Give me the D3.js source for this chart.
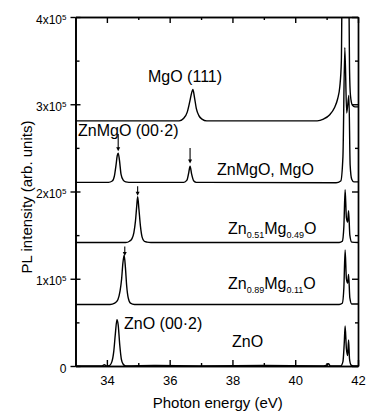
<!DOCTYPE html>
<meta charset="utf-8">
<script src="https://d3js.org/d3.v7.min.js"></script>
<style>
  body { margin: 0; background: #fff; }
  text { font-family: "Liberation Sans", Arial, sans-serif; fill: #000; }
</style>
<div id="chart"></div>
<script>

    // photon energy axis (eV) and intensity axis (x10^5 arb. units)
    let xMajor = [34, 36, 38, 40, 42];
    let xMinor = [35, 37, 39, 41];
    let yMajor = [0, 1, 2, 3, 4];
    let yMinor = [0.5, 1.5, 2.5, 3.5];

    // spectra, intensity in units of 1e5
    let znoE = [33.0, 33.85, 33.92, 33.98, 34.08, 34.16, 34.22, 34.27, 34.32, 34.36, 34.41, 34.46, 34.52, 34.6, 35.5, 37.0, 39.0, 40.9, 41.0, 41.06, 41.12, 41.45, 41.52, 41.56, 41.59, 41.63, 41.67, 41.7, 41.73, 41.78, 41.85, 42.0];
    let znoI = [0, 0, 0.015, 0, 0.005, 0.05, 0.17, 0.37, 0.53, 0.47, 0.24, 0.08, 0.02, 0, 0.005, 0, 0.005, 0, 0.01, 0.025, 0, 0, 0.05, 0.25, 0.46, 0.2, 0.12, 0.3, 0.08, 0.01, 0, 0];

    let zn89E = [33.0, 34.1, 34.25, 34.35, 34.42, 34.47, 34.51, 34.55, 34.59, 34.63, 34.68, 34.75, 34.88, 41.4, 41.5, 41.55, 41.59, 41.63, 41.67, 41.7, 41.74, 41.8, 42.0];
    let zn89I = [0.705, 0.705, 0.72, 0.76, 0.86, 1.0, 1.18, 1.27, 1.13, 0.92, 0.78, 0.72, 0.705, 0.705, 0.72, 0.9, 1.33, 1.0, 0.95, 1.05, 0.78, 0.71, 0.71];

    let zn51E = [33.0, 34.6, 34.72, 34.8, 34.86, 34.91, 34.95, 34.98, 35.02, 35.07, 35.12, 35.19, 35.28, 35.4, 41.4, 41.5, 41.55, 41.59, 41.63, 41.67, 41.7, 41.74, 41.8, 42.0];
    let zn51I = [1.415, 1.415, 1.43, 1.46, 1.53, 1.66, 1.83, 1.94, 1.8, 1.6, 1.48, 1.43, 1.42, 1.415, 1.415, 1.43, 1.6, 2.02, 1.7, 1.65, 1.78, 1.5, 1.42, 1.415];

    let znmgoE = [33.0, 34.05, 34.17, 34.24, 34.29, 34.33, 34.36, 34.4, 34.45, 34.52, 34.6, 34.7, 36.45, 36.55, 36.61, 36.65, 36.7, 36.77, 36.85, 41.3, 41.45, 41.52, 41.58, 41.64, 41.71, 41.75, 41.8, 41.87, 42.0];
    let znmgoI = [2.105, 2.105, 2.12, 2.18, 2.3, 2.41, 2.44, 2.36, 2.2, 2.13, 2.11, 2.105, 2.105, 2.13, 2.22, 2.29, 2.2, 2.12, 2.105, 2.1, 2.12, 2.4, 3.65, 2.9, 3.1, 2.3, 2.14, 2.11, 2.11];

    let mgoE = [33.0, 36.3, 36.45, 36.56, 36.64, 36.7, 36.74, 36.79, 36.85, 36.93, 37.03, 37.18, 40.7, 40.9, 41.1, 41.25, 41.35, 41.42, 41.47, 41.5, 41.7, 41.73, 41.76, 41.82, 41.9, 42.0];
    let mgoI = [2.81, 2.81, 2.84, 2.91, 3.03, 3.13, 3.17, 3.08, 2.95, 2.87, 2.83, 2.81, 2.81, 2.83, 2.88, 2.96, 3.06, 3.2, 3.5, 4.6, 4.6, 3.4, 3.1, 2.99, 2.97, 2.97];

    let spectra = [[znoE, znoI], [zn89E, zn89I], [zn51E, zn51I], [znmgoE, znmgoI], [mgoE, mgoI]];

    // small arrows marking peaks: energy, from, to
    let arrowE = [34.36, 36.65, 34.98, 34.57];
    let arrowFrom = [2.66, 2.5, 2.06, 1.37];
    let arrowTo = [2.46, 2.32, 1.95, 1.26];

    let width = 366;
    let height = 414;
    let plotLeft = 75.5, plotRight = 358, plotTop = 17, plotBottom = 366;

    let svg = d3.select("#chart")
                .append("svg")
                    .attr("width", width)
                    .attr("height", height);

    let x = d3.scaleLinear().domain([33, 42]).range([plotLeft, plotRight]);
    let y = d3.scaleLinear().domain([0, 4]).range([plotBottom, plotTop]);

    svg.append("clipPath")
        .attr("id", "plotClip")
        .append("rect")
            .attr("x", plotLeft).attr("y", plotTop)
            .attr("width", plotRight - plotLeft).attr("height", plotBottom - plotTop);

    // spectra
    let line = d3.line()
                 .x(d => x(d[0]))
                 .y(d => y(d[1]))
                 .curve(d3.curveMonotoneX);

    svg.append("g")
        .attr("clip-path", "url(#plotClip)")
        .selectAll("path")
        .data(spectra.map(s => s[0].map((e, i) => [e, s[1][i]])))
        .enter()
        .append("path")
            .attr("d", line)
            .attr("fill", "none")
            .attr("stroke", "#000")
            .attr("stroke-width", 1.4);

    // axes, ticks pointing inwards
    function styleAxis(g) {
        g.selectAll("path, line").attr("stroke", "#000").attr("stroke-width", 1.4);
    }

    svg.append("g").attr("transform", "translate(0," + plotBottom + ")")
        .call(d3.axisBottom(x).tickValues(xMinor).tickSize(-3).tickSizeOuter(0).tickFormat(""))
        .call(styleAxis);
    svg.append("g").attr("transform", "translate(0," + plotBottom + ")")
        .call(d3.axisBottom(x).tickValues(xMajor).tickSize(-6).tickSizeOuter(0).tickPadding(10).tickFormat(d3.format("d")))
        .call(styleAxis)
        .selectAll("text").style("font-size", "13px");

    svg.append("g").attr("transform", "translate(0," + plotTop + ")")
        .call(d3.axisTop(x).tickValues(xMinor).tickSize(-3).tickSizeOuter(0).tickFormat(""))
        .call(styleAxis);
    svg.append("g").attr("transform", "translate(0," + plotTop + ")")
        .call(d3.axisTop(x).tickValues(xMajor).tickSize(-6).tickSizeOuter(0).tickFormat(""))
        .call(styleAxis);

    svg.append("g").attr("transform", "translate(" + plotRight + ",0)")
        .call(d3.axisRight(y).tickValues(yMinor).tickSize(-3).tickSizeOuter(0).tickFormat(""))
        .call(styleAxis);
    svg.append("g").attr("transform", "translate(" + plotRight + ",0)")
        .call(d3.axisRight(y).tickValues(yMajor).tickSize(-6).tickSizeOuter(0).tickFormat(""))
        .call(styleAxis);

    svg.append("g").attr("transform", "translate(" + plotLeft + ",0)")
        .call(d3.axisLeft(y).tickValues(yMinor).tickSize(-4).tickSizeOuter(0).tickFormat(""))
        .call(styleAxis);
    svg.append("g").attr("transform", "translate(" + plotLeft + ",0)")
        .call(d3.axisLeft(y).tickValues(yMajor).tickSize(-5).tickSizeOuter(0).tickFormat(""))
        .call(styleAxis);
    let yLabels = svg.append("g").attr("transform", "translate(" + plotLeft + ",0)")
        .call(d3.axisLeft(y).tickValues(yMajor).tickSize(5).tickSizeOuter(0).tickPadding(4))
        .call(styleAxis);

    // tick labels like 3x10^5
    yLabels.selectAll("text")
        .style("font-size", "12px")
        .attr("dy", "0.5em")
        .each(function(d) {
            let t = d3.select(this);
            t.text(null);
            t.append("tspan").text(d === 0 ? "0" : d + "x10");
            if (d !== 0) {
                t.append("tspan").attr("dy", "-0.5em").style("font-size", "8px").text("5");
            }
        });

    // axis titles
    svg.append("text")
        .attr("x", (plotLeft + plotRight) / 2 + 1)
        .attr("y", 408)
        .attr("text-anchor", "middle")
        .style("font-size", "15px")
        .text("Photon energy (eV)");

    svg.append("text")
        .attr("transform", "translate(32," + 197 + ") rotate(-90)")
        .attr("text-anchor", "middle")
        .style("font-size", "15px")
        .text("PL intensity (arb. units)");

    // peak arrows
    let arrows = svg.append("g");
    arrowE.forEach((e, i) => {
        arrows.append("line")
            .attr("x1", x(e)).attr("x2", x(e))
            .attr("y1", y(arrowFrom[i])).attr("y2", y(arrowTo[i]) - 3)
            .attr("stroke", "#000").attr("stroke-width", 1.1);
        arrows.append("path")
            .attr("d", "M" + (x(e) - 2) + "," + (y(arrowTo[i]) - 4) + "L" + (x(e) + 2) + "," + (y(arrowTo[i]) - 4) + "L" + x(e) + "," + y(arrowTo[i]) + "Z")
            .attr("fill", "#000");
    });

    // sample labels, parts: [text, isSubscript]
    let labels = [
        {x: 148, y: 82, parts: [["MgO (111)", false]]},
        {x: 78, y: 136, parts: [["ZnMgO (00·2)", false]]},
        {x: 217, y: 175, parts: [["ZnMgO, MgO", false]]},
        {x: 228, y: 234, parts: [["Zn", false], ["0.51", true], ["Mg", false], ["0.49", true], ["O", false]]},
        {x: 228, y: 289, parts: [["Zn", false], ["0.89", true], ["Mg", false], ["0.11", true], ["O", false]]},
        {x: 124, y: 329, parts: [["ZnO (00·2)", false]]},
        {x: 232, y: 347, parts: [["ZnO", false]]}
    ];

    labels.forEach(l => {
        let t = svg.append("text")
            .attr("x", l.x).attr("y", l.y)
            .style("font-size", "16px");
        let shifted = false;
        l.parts.forEach(p => {
            let span = t.append("tspan").text(p[0]);
            if (p[1]) {
                span.attr("dy", 4).style("font-size", "9px");
                shifted = true;
            } else if (shifted) {
                span.attr("dy", -4);
                shifted = false;
            }
        });
    });

</script>
</html>
